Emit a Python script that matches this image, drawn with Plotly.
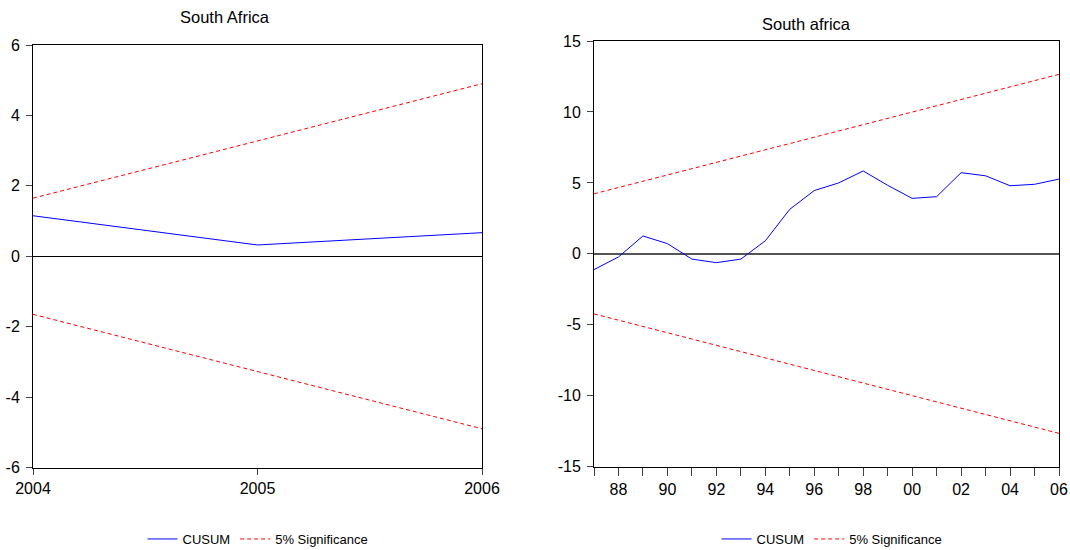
import plotly.graph_objects as go

# ---- Left panel data (South Africa, 2004-2006) ----
years_left = [2004, 2005, 2006]
cusum_left = [1.15, 0.32, 0.67]
upper_left = [1.65, 3.28, 4.90]
lower_left = [-1.65, -3.28, -4.90]
left_xticks = [2004, 2005, 2006]
left_xticklabels = ["2004", "2005", "2006"]
left_yticks = [-6, -4, -2, 0, 2, 4, 6]
left_yticklabels = ["-6", "-4", "-2", "0", "2", "4", "6"]

# ---- Right panel data (South africa, 1987-2006) ----
years_right = list(range(1987, 2007))
cusum_right = [-1.11, -0.22, 1.26, 0.72, -0.37, -0.62, -0.37, 0.92, 3.14, 4.46,
               5.00, 5.84, 4.83, 3.91, 4.03, 5.72, 5.50, 4.80, 4.90, 5.27]
upper_right = [4.23, 4.67, 5.12, 5.56, 6.00, 6.45, 6.89, 7.33, 7.78, 8.22,
               8.66, 9.10, 9.55, 9.99, 10.43, 10.88, 11.32, 11.76, 12.21, 12.65]
lower_right = [-4.23, -4.67, -5.12, -5.56, -6.00, -6.45, -6.89, -7.33, -7.78, -8.22,
               -8.66, -9.10, -9.55, -9.99, -10.43, -10.88, -11.32, -11.76, -12.21, -12.65]
right_xticks = list(range(1987, 2007))
right_xticklabels = ["", "88", "", "90", "", "92", "", "94", "", "96",
                     "", "98", "", "00", "", "02", "", "04", "", "06"]
right_yticks = [-15, -10, -5, 0, 5, 10, 15]
right_yticklabels = ["-15", "-10", "-5", "0", "5", "10", "15"]

titles = ["South Africa", "South africa"]
series_names = ["CUSUM", "5% Significance"]

FONT = "Liberation Sans, Arial, sans-serif"
BLUE = "#0000ff"
RED = "#ff0000"
DASH = "4px,3px"

W, H = 1070, 550

fig = go.Figure()

# left traces
fig.add_trace(go.Scatter(x=years_left, y=cusum_left, mode="lines", name=series_names[0],
                         line=dict(color=BLUE, width=1), xaxis="x", yaxis="y", legend="legend"))
fig.add_trace(go.Scatter(x=years_left, y=upper_left, mode="lines", name=series_names[1],
                         line=dict(color=RED, width=1, dash=DASH), xaxis="x", yaxis="y",
                         legend="legend", legendgroup="sigL"))
fig.add_trace(go.Scatter(x=years_left, y=lower_left, mode="lines", name=series_names[1],
                         line=dict(color=RED, width=1, dash=DASH), xaxis="x", yaxis="y",
                         legend="legend", legendgroup="sigL", showlegend=False))

# right traces
fig.add_trace(go.Scatter(x=years_right, y=cusum_right, mode="lines", name=series_names[0],
                         line=dict(color=BLUE, width=1), xaxis="x2", yaxis="y2", legend="legend2"))
fig.add_trace(go.Scatter(x=years_right, y=upper_right, mode="lines", name=series_names[1],
                         line=dict(color=RED, width=1, dash=DASH), xaxis="x2", yaxis="y2",
                         legend="legend2", legendgroup="sigR"))
fig.add_trace(go.Scatter(x=years_right, y=lower_right, mode="lines", name=series_names[1],
                         line=dict(color=RED, width=1, dash=DASH), xaxis="x2", yaxis="y2",
                         legend="legend2", legendgroup="sigR", showlegend=False))

tickfont = dict(family=FONT, size=16, color="#000000")

common_axis = dict(showgrid=False, showline=True, mirror=True, linecolor="#000000",
                   linewidth=1, ticks="outside", tickcolor="#444444", tickwidth=1,
                   tickfont=tickfont, automargin=False)

fig.update_layout(
    template="none",
    width=W, height=H,
    margin=dict(l=0, r=0, t=0, b=0, pad=0, autoexpand=False),
    paper_bgcolor="white", plot_bgcolor="white",
    font=dict(family=FONT, size=13, color="#000000"),
    xaxis=dict(domain=[33 / W, 482 / W], range=[2004, 2006], tickvals=left_xticks,
               ticktext=left_xticklabels, ticklen=6, zeroline=False, anchor="y",
               **common_axis),
    yaxis=dict(domain=[(H - 467.5) / H, (H - 45) / H], range=[-6, 6], tickvals=left_yticks,
               ticktext=left_yticklabels,
               ticklen=6, zeroline=True, zerolinecolor="#000000", zerolinewidth=1,
               anchor="x", ticklabelstandoff=3, **common_axis),
    xaxis2=dict(domain=[594 / W, 1059 / W], range=[1987, 2006], tickvals=right_xticks,
                ticktext=right_xticklabels, ticklen=8, zeroline=False, anchor="y2",
                **common_axis),
    yaxis2=dict(domain=[(H - 466.7) / H, (H - 41) / H], range=[-15, 15], tickvals=right_yticks,
                ticktext=right_yticklabels,
                ticklen=6, zeroline=True, zerolinecolor="#555555", zerolinewidth=1.5,
                anchor="x2", ticklabelstandoff=3, **common_axis),
    legend=dict(orientation="h", x=258 / W, y=(H - 539) / H, xanchor="center", yanchor="middle",
                font=dict(family=FONT, size=13), bgcolor="rgba(0,0,0,0)",
                traceorder="normal", itemwidth=30),
    legend2=dict(orientation="h", x=832 / W, y=(H - 539) / H, xanchor="center", yanchor="middle",
                 font=dict(family=FONT, size=13), bgcolor="rgba(0,0,0,0)",
                 traceorder="normal", itemwidth=30),
    annotations=[
        dict(text=titles[0], x=225 / W, y=1 - 17 / H, xref="paper", yref="paper",
             showarrow=False, xanchor="center", yanchor="middle",
             font=dict(family=FONT, size=16.5, color="#000000")),
        dict(text=titles[1], x=806 / W, y=1 - 23.5 / H, xref="paper", yref="paper",
             showarrow=False, xanchor="center", yanchor="middle",
             font=dict(family=FONT, size=16.5, color="#000000")),
    ],
)

fig.write_html("out.html",
               config={"displayModeBar": False},
               post_script="document.body.style.margin='0px';document.body.style.padding='0px';")
